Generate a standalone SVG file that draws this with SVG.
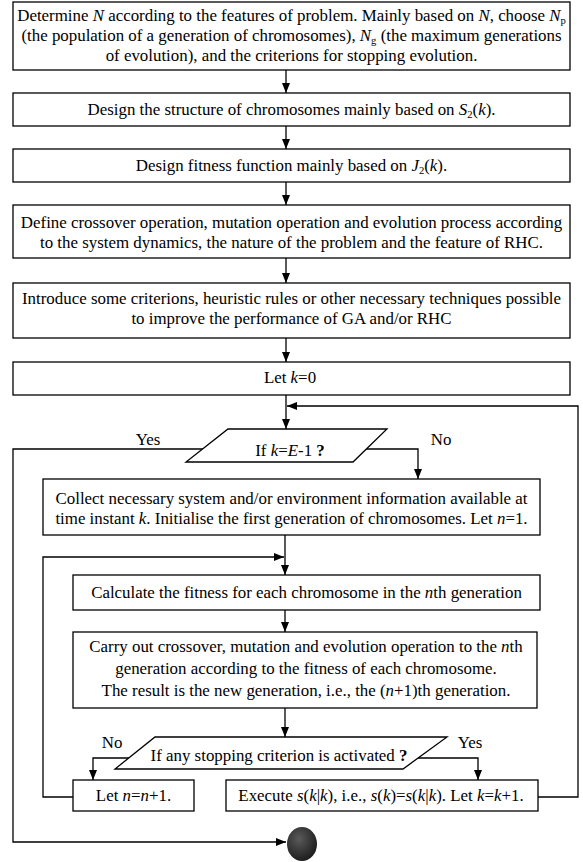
<svg xmlns="http://www.w3.org/2000/svg" width="583" height="862" viewBox="0 0 583 862">
<style>
text{font-family:"Liberation Serif","Times New Roman",serif;font-size:17.5px;fill:#000;text-anchor:middle}
.i{font-style:italic}
.b{font-weight:bold}
.s{font-size:11px}
.box{fill:#fff;stroke:#000;stroke-width:1.3}
.c{fill:none;stroke:#000;stroke-width:1.3}
</style>
<defs>
<marker id="ah" markerWidth="10" markerHeight="8" refX="10" refY="4" orient="auto" markerUnits="userSpaceOnUse">
<path d="M0,0 L10,4 L0,8 Z" fill="#000"/>
</marker>
<radialGradient id="g" cx="0.4" cy="0.35" r="0.7">
<stop offset="0" stop-color="#5a5a5a"/>
<stop offset="1" stop-color="#1a1a1a"/>
</radialGradient>
</defs>
<rect width="583" height="862" fill="#fff"/>

<g id="connectors">
<line class="c" x1="286" y1="70" x2="286" y2="93" marker-end="url(#ah)"/>
<line class="c" x1="286" y1="126" x2="286" y2="149" marker-end="url(#ah)"/>
<line class="c" x1="286" y1="182" x2="286" y2="205" marker-end="url(#ah)"/>
<line class="c" x1="286" y1="258" x2="286" y2="283" marker-end="url(#ah)"/>
<line class="c" x1="286" y1="338" x2="286" y2="362" marker-end="url(#ah)"/>
<line class="c" x1="286" y1="395" x2="286" y2="429" marker-end="url(#ah)"/>
<polyline class="c" points="538,797 578,797 578,406 287,406" marker-end="url(#ah)"/>
<polyline class="c" points="203,449 13,449 13,842 286,842" marker-end="url(#ah)"/>
<polyline class="c" points="366,449 418,449 418,479" marker-end="url(#ah)"/>
<line class="c" x1="285" y1="535" x2="285" y2="575" marker-end="url(#ah)"/>
<polyline class="c" points="73,797 43,797 43,557 284,557" marker-end="url(#ah)"/>
<line class="c" x1="285" y1="610" x2="285" y2="632" marker-end="url(#ah)"/>
<line class="c" x1="285" y1="708" x2="285" y2="737" marker-end="url(#ah)"/>
<polyline class="c" points="129,758 93,758 93,780" marker-end="url(#ah)"/>
<polyline class="c" points="418,758 478,758 478,780" marker-end="url(#ah)"/>
</g>

<g id="n1">
<rect class="box" x="13" y="2" width="557" height="68"/>
<text transform="matrix(0.965 0 0 1 291.5 0)" y="21">Determine <tspan class="i">N</tspan> according to the features of problem. Mainly based on <tspan class="i">N</tspan>, choose <tspan class="i">N</tspan><tspan class="s" dy="3">p</tspan></text>
<text transform="matrix(0.965 0 0 1 291.5 0)" y="41">(the population of a generation of chromosomes), <tspan class="i">N</tspan><tspan class="s" dy="3">g</tspan><tspan dy="-3"> (the maximum generations</tspan></text>
<text transform="matrix(0.965 0 0 1 291.5 0)" y="61">of evolution), and the criterions for stopping evolution.</text>
</g>
<g id="n2">
<rect class="box" x="13" y="93" width="557" height="33"/>
<text transform="matrix(0.965 0 0 1 291.5 0)" y="115">Design the structure of chromosomes mainly based on <tspan class="i">S</tspan><tspan class="s" dy="3">2</tspan><tspan dy="-3">(</tspan><tspan class="i">k</tspan>).</text>
</g>
<g id="n3">
<rect class="box" x="13" y="149" width="557" height="33"/>
<text transform="matrix(0.965 0 0 1 291.5 0)" y="171">Design fitness function mainly based on <tspan class="i">J</tspan><tspan class="s" dy="3">2</tspan><tspan dy="-3">(</tspan><tspan class="i">k</tspan>).</text>
</g>
<g id="n4">
<rect class="box" x="13" y="205" width="557" height="53"/>
<text transform="matrix(0.965 0 0 1 291.5 0)" y="228">Define crossover operation, mutation operation and evolution process according</text>
<text transform="matrix(0.965 0 0 1 291.5 0)" y="248">to the system dynamics, the nature of the problem and the feature of RHC.</text>
</g>
<g id="n5">
<rect class="box" x="13" y="283" width="557" height="55"/>
<text transform="matrix(0.965 0 0 1 291.5 0)" y="304">Introduce some criterions, heuristic rules or other necessary techniques possible</text>
<text transform="matrix(0.965 0 0 1 291.5 0)" y="324">to improve the performance of GA and/or RHC</text>
</g>
<g id="n6">
<rect class="box" x="13" y="362" width="557" height="33"/>
<text transform="matrix(0.965 0 0 1 290 0)" y="383">Let <tspan class="i">k</tspan>=0</text>
</g>
<g id="d1">
<polygon class="box" points="228,429 387,429 353,462 186,462"/>
<text transform="matrix(0.965 0 0 1 290 0)" y="456">If <tspan class="i">k</tspan>=<tspan class="i">E</tspan>-1 <tspan class="b">?</tspan></text>
<text transform="matrix(0.965 0 0 1 148 0)" y="445">Yes</text>
<text transform="matrix(0.965 0 0 1 441 0)" y="445">No</text>
</g>
<g id="n7">
<rect class="box" x="43" y="479" width="497" height="56"/>
<text transform="matrix(0.965 0 0 1 291.5 0)" y="504">Collect necessary system and/or environment information available at</text>
<text transform="matrix(0.965 0 0 1 291.5 0)" y="524">time instant <tspan class="i">k</tspan>. Initialise the first generation of chromosomes. Let <tspan class="i">n</tspan>=1.</text>
</g>
<g id="n8">
<rect class="box" x="73" y="575" width="467" height="35"/>
<text transform="matrix(0.965 0 0 1 306.5 0)" y="598">Calculate the fitness for each chromosome in the <tspan class="i">n</tspan>th generation</text>
</g>
<g id="n9">
<rect class="box" x="73" y="632" width="464" height="76"/>
<text transform="matrix(0.965 0 0 1 306 0)" y="652">Carry out crossover, mutation and evolution operation to the <tspan class="i">n</tspan>th</text>
<text transform="matrix(0.965 0 0 1 306 0)" y="674">generation according to the fitness of each chromosome.</text>
<text transform="matrix(0.965 0 0 1 306 0)" y="696">The result is the new generation, i.e., the (<tspan class="i">n</tspan>+1)th generation.</text>
</g>
<g id="d2">
<polygon class="box" points="155,737 447,737 403,769 115,769"/>
<text transform="matrix(0.965 0 0 1 279 0)" y="761">If any stopping criterion is activated <tspan class="b">?</tspan></text>
<text transform="matrix(0.965 0 0 1 112 0)" y="748">No</text>
<text transform="matrix(0.965 0 0 1 470 0)" y="748">Yes</text>
</g>
<g id="n10">
<rect class="box" x="73" y="780" width="121" height="31"/>
<text transform="matrix(0.965 0 0 1 133.5 0)" y="801">Let <tspan class="i">n</tspan>=<tspan class="i">n</tspan>+1.</text>
</g>
<g id="n11">
<rect class="box" x="226" y="780" width="312" height="31"/>
<text transform="matrix(0.965 0 0 1 381 0)" y="801">Execute <tspan class="i">s</tspan>(<tspan class="i">k</tspan>|<tspan class="i">k</tspan>), i.e., <tspan class="i">s</tspan>(<tspan class="i">k</tspan>)=<tspan class="i">s</tspan>(<tspan class="i">k</tspan>|<tspan class="i">k</tspan>). Let <tspan class="i">k</tspan>=<tspan class="i">k</tspan>+1.</text>
</g>
<g id="end">
<ellipse cx="302" cy="844" rx="15" ry="17" fill="url(#g)"/>
</g>
</svg>
